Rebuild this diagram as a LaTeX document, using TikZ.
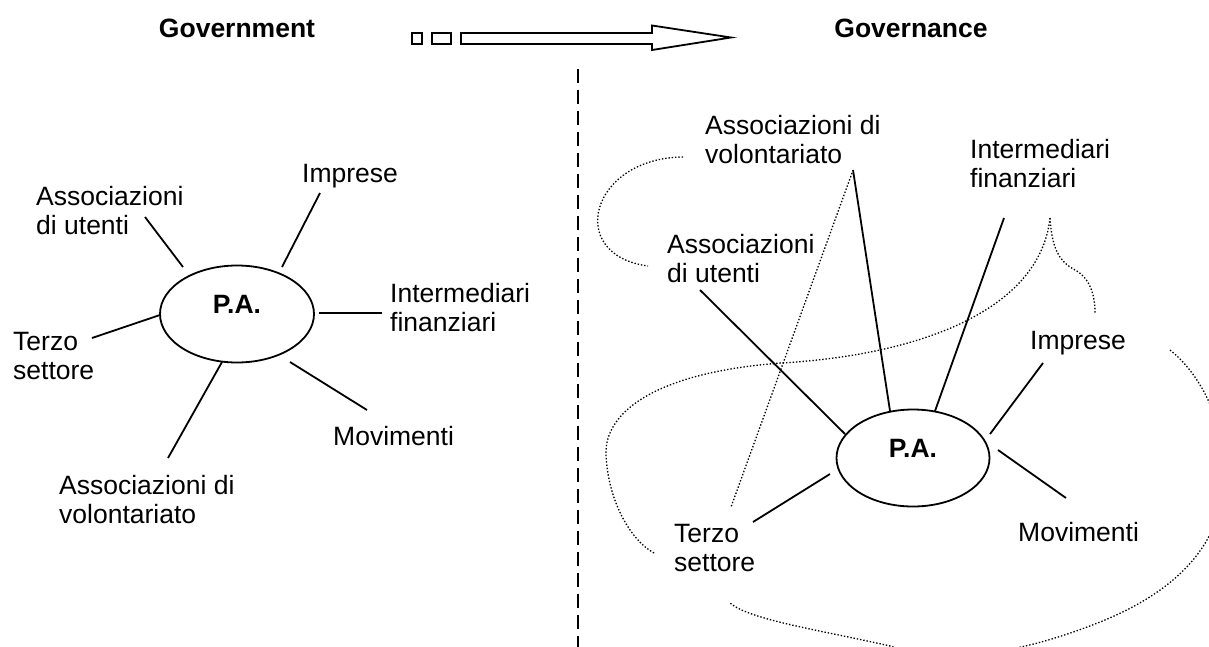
\documentclass[tikz,border=0pt]{standalone}
\usepackage{fontspec}
\setmainfont{Liberation Sans}
\usetikzlibrary{shapes.geometric}
\newcommand\TwoL[2]{\vtop{\baselineskip=29pt\hbox{#1}\hbox{#2}}}
\begin{document}
\begin{tikzpicture}[x=1pt,y=-1pt,
  every node/.style={inner sep=0pt,font=\fontsize{26.5}{29}\selectfont},
  lbl/.style={anchor=base west},
  ttl/.style={anchor=base,font=\fontsize{26.5}{29}\selectfont\bfseries},
  pa/.style={anchor=base,font=\fontsize{26.5}{29}\selectfont\bfseries},
  ell/.style={draw,ellipse,line width=1.8pt,minimum width=154pt,minimum height=97pt},
  conn/.style={line width=1.8pt},
  dotc/.style={line width=1.3pt,dash pattern=on 1.4pt off 1.9pt},
  divider/.style={line width=2.4pt,dash pattern=on 14pt off 7pt},
  arrowshape/.style={line width=1.8pt,line join=miter}]
\useasboundingbox (0,0) rectangle (1209,646);
\clip (0,0) rectangle (1209,646);
\fill[white] (0,0) rectangle (1209,646);

% titles and arrow
\node[ttl] (tgov) at (237,37) {Government};
\node[ttl] (tgovn) at (911,37) {Governance};
\draw[arrowshape] (412,33) rectangle (422,44);
\draw[arrowshape] (432,33) rectangle (451,44);
\draw[arrowshape] (461,33) -- (652,33) -- (652,25.5) -- (731,37.5) -- (652,50) -- (652,44) -- (461,44) -- cycle;

% divider
\coordinate (dtop) at (578,69);
\coordinate (dbot) at (578,650);
\draw[divider] (dtop) -- (dbot);

% ---------- left diagram ----------
\node[ell] (pal) at (237,314) {};
\node[pa] (palt) at (237,313) {P.A.};
\node[lbl] (lutenti) at (36,205) {\TwoL{Associazioni}{di utenti}};
\node[lbl] (limprese) at (302,182) {Imprese};
\node[lbl] (linterm) at (390,302) {\TwoL{Intermediari}{finanziari}};
\node[lbl] (lterzo) at (13,350) {\TwoL{Terzo}{settore}};
\node[lbl] (lvol) at (59,494) {\TwoL{Associazioni di}{volontariato}};
\node[lbl] (lmov) at (333,445) {Movimenti};

\coordinate (lu1) at (145,217); \coordinate (lu2) at (183,267);
\coordinate (li1) at (320,193); \coordinate (li2) at (282,267);
\coordinate (lf1) at (382,313); \coordinate (lf2) at (319,313);
\coordinate (lt1) at (92,338);  \coordinate (lt2) at (160,315);
\coordinate (lv1) at (168,458); \coordinate (lv2) at (222,362);
\coordinate (lm1) at (367,410); \coordinate (lm2) at (290,362);
\draw[conn] (lu1) -- (lu2);
\draw[conn] (li1) -- (li2);
\draw[conn] (lf1) -- (lf2);
\draw[conn] (lt1) -- (lt2);
\draw[conn] (lv1) -- (lv2);
\draw[conn] (lm1) -- (lm2);

% ---------- right diagram ----------
\node[ell,minimum width=153pt] (par) at (913,458) {};
\node[pa] (part) at (913,457) {P.A.};
\node[lbl] (rvol) at (705,134) {\TwoL{Associazioni di}{volontariato}};
\node[lbl] (rint) at (970,158) {\TwoL{Intermediari}{finanziari}};
\node[lbl] (rutenti) at (667,253) {\TwoL{Associazioni}{di utenti}};
\node[lbl] (rimprese) at (1030,349) {Imprese};
\node[lbl] (rterzo) at (674,542) {\TwoL{Terzo}{settore}};
\node[lbl] (rmov) at (1018,541) {Movimenti};

\coordinate (ru1) at (700,290);  \coordinate (ru2) at (845,434);
\coordinate (rv1) at (853,170);  \coordinate (rv2) at (890,411);
\coordinate (rf1) at (1004,218); \coordinate (rf2) at (935,411);
\coordinate (ri1) at (1043,363); \coordinate (ri2) at (990,434);
\coordinate (rt1) at (753,522);  \coordinate (rt2) at (830,474);
\coordinate (rm1) at (1066,498); \coordinate (rm2) at (998,450);
\draw[conn] (ru1) -- (ru2);
\draw[conn] (rv1) -- (rv2);
\draw[conn] (rf1) -- (rf2);
\draw[conn] (ri1) -- (ri2);
\draw[conn] (rt1) -- (rt2);
\draw[conn] (rm1) -- (rm2);

% dotted links
\coordinate (dv1) at (852,173); \coordinate (dv2) at (731,507);
\draw[dotc] (dv1) -- (dv2);
\coordinate (lp1) at (683,157); \coordinate (lp2) at (648,266);
\draw[dotc] (lp1) .. controls (590,158) and (565,255) .. (lp2);
\coordinate (fk) at (1050,218);
\draw[dotc] (fk) .. controls (1040,310) and (920,355) .. (781,363)
  .. controls (660,372) and (604,410) .. (606,455)
  .. controls (608,500) and (630,540) .. (654,553);
\draw[dotc] (fk) .. controls (1052,250) and (1060,262) .. (1075,270)
  .. controls (1090,278) and (1095,295) .. (1095,313);
\draw[dotc] (1170,350) .. controls (1195,370) and (1222,410) .. (1224,470)
  .. controls (1226,540) and (1180,590) .. (1100,622)
  .. controls (1040,646) and (960,668) .. (890,646)
  .. controls (820,630) and (750,620) .. (730,603);
\end{tikzpicture}
\end{document}
